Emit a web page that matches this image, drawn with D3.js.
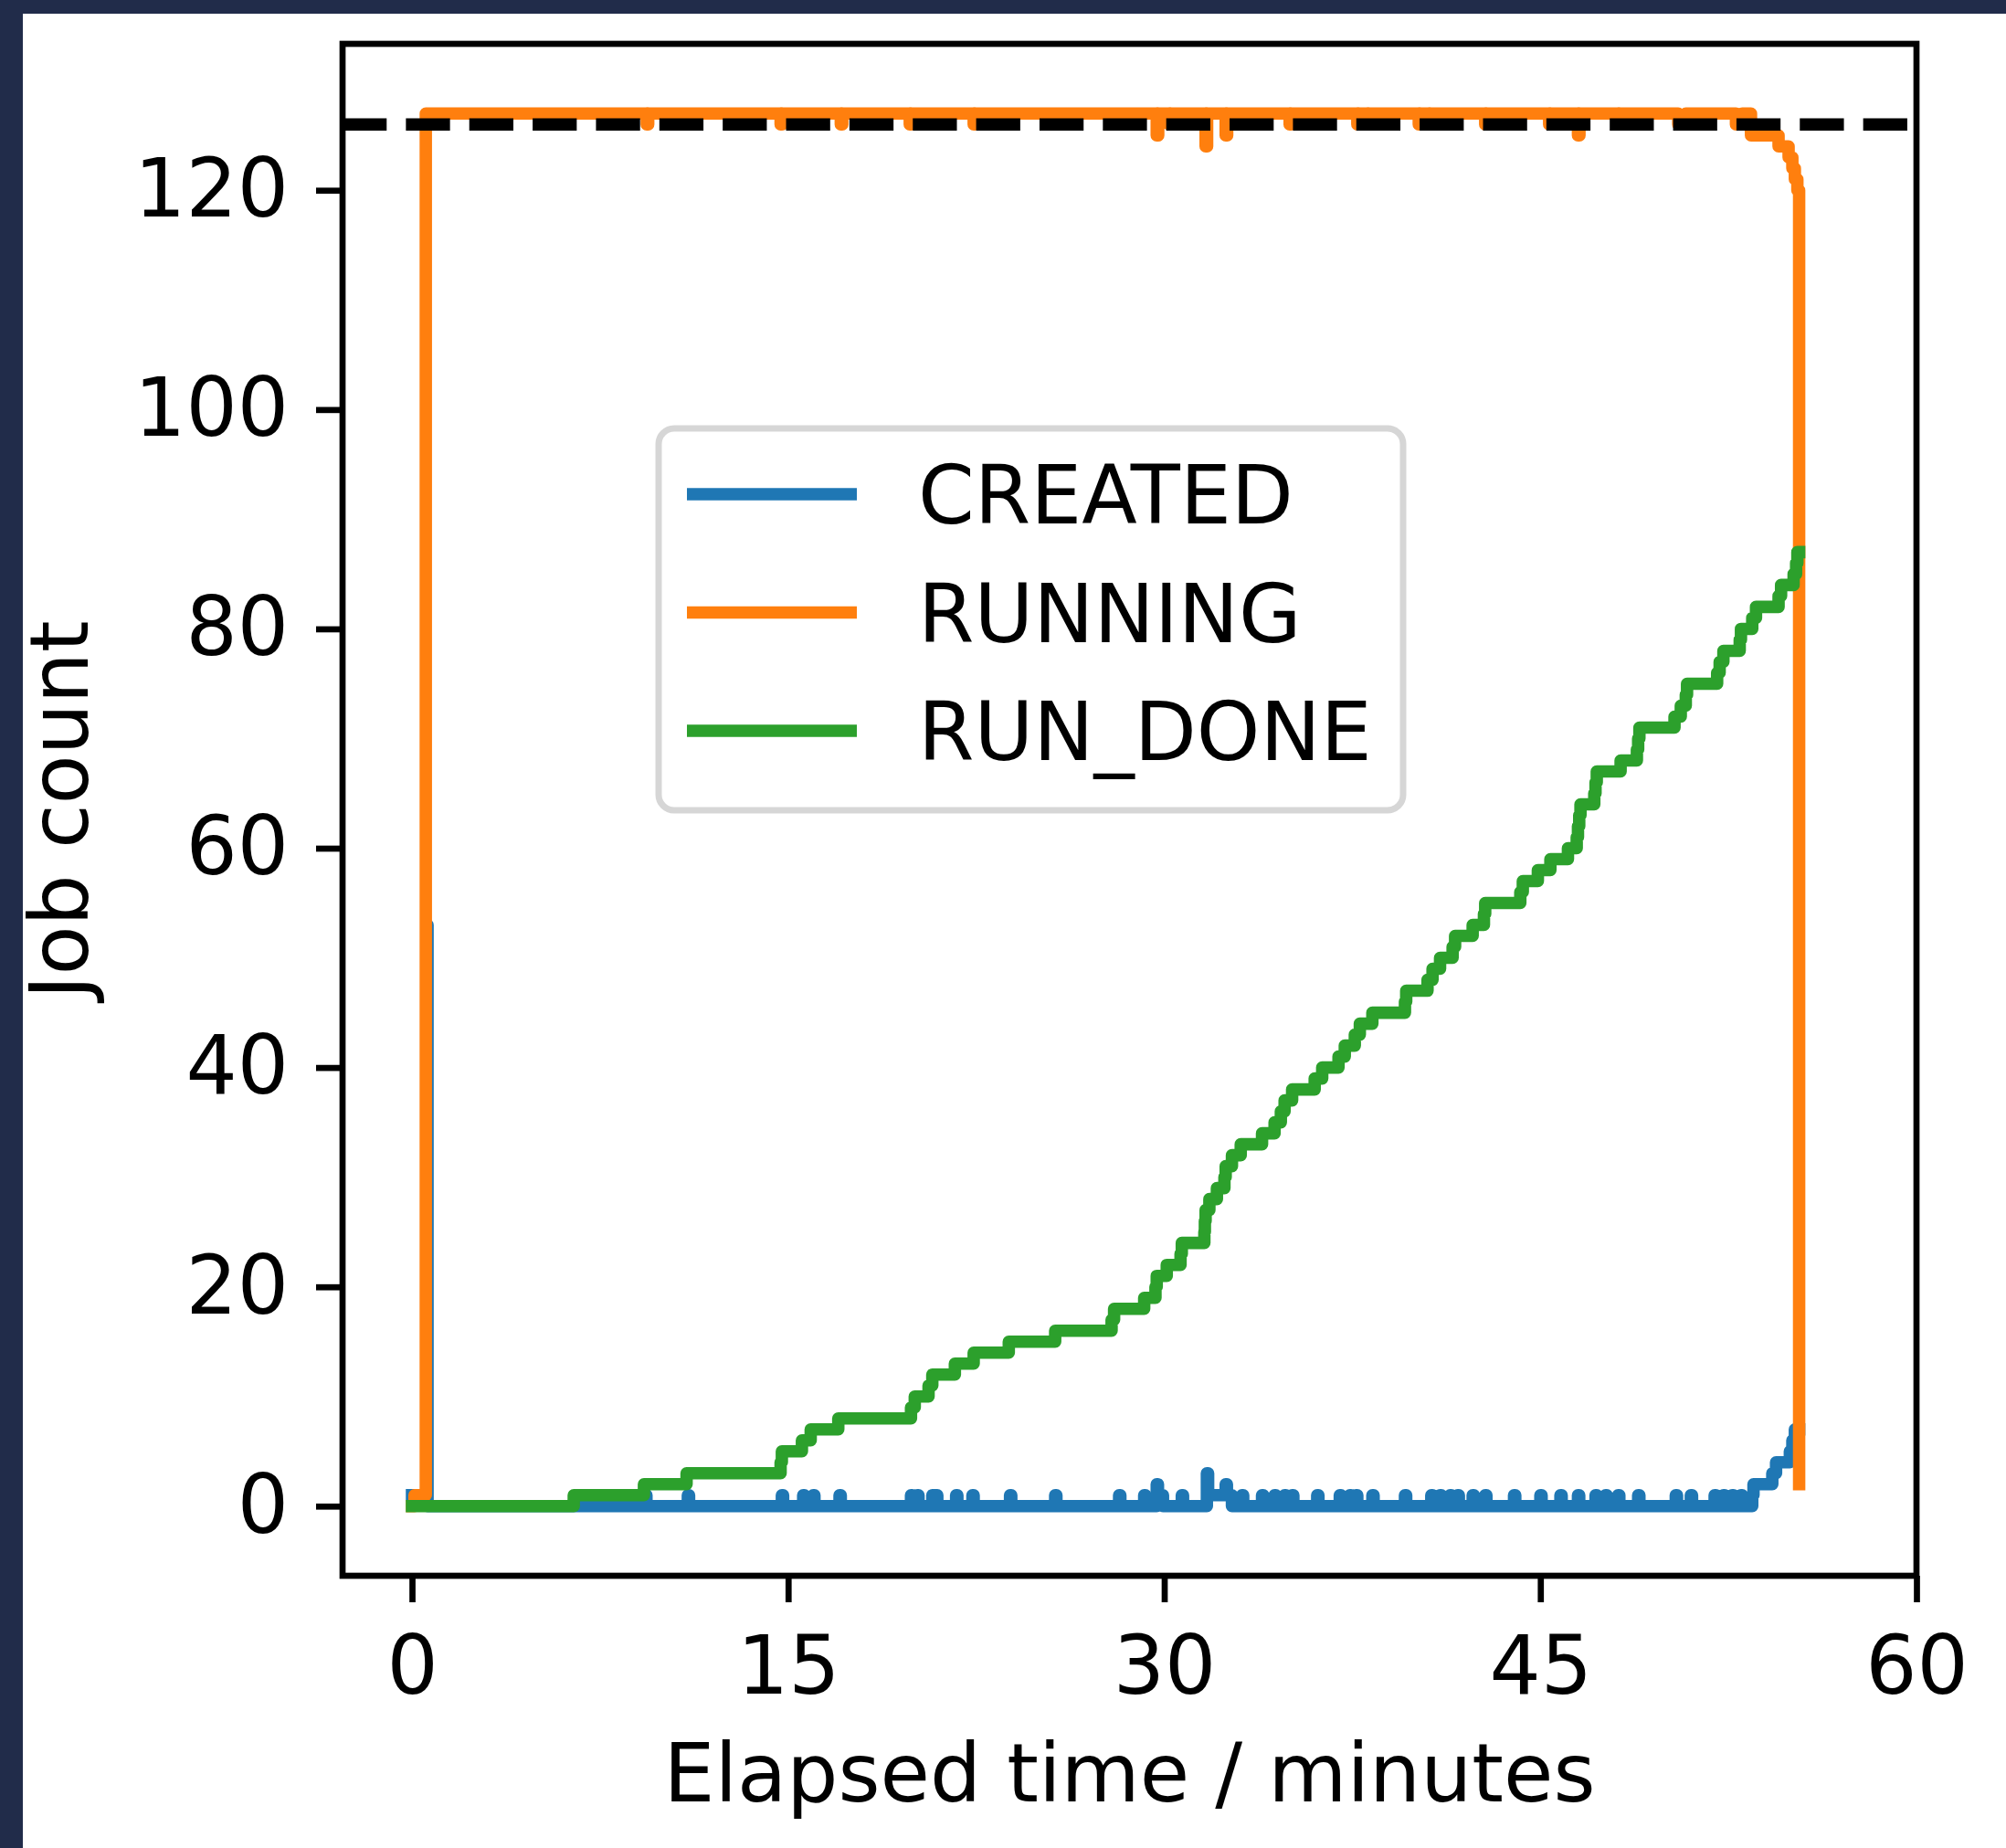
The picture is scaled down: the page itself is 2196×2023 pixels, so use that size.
<!DOCTYPE html>
<html>
<head>
<meta charset="utf-8">
<script src="https://cdn.jsdelivr.net/npm/d3@7"></script>
<style>
  body { margin: 0; background: #212c4a; }
  svg { display: block; }
</style>
</head>
<body>
<svg id="chart"></svg>
<script>
const width = 2196
const height = 2023

// series as [minutes, job count] events, drawn as steps
const seriesNames = ["CREATED", "RUNNING", "RUN_DONE"]
const seriesColors = ["#1f77b4", "#ff7f0e", "#2ca02c"]
const xTicks = [0, 15, 30, 45, 60]
const yTicks = [0, 20, 40, 60, 80, 100, 120]
const totalJobs = 126

const created = [
  [0, 1], [0.6, 53], [0.62, 0],
  [9.3, 1], [9.35, 0], [11.0, 1], [11.05, 0], [14.75, 1], [14.8, 0],
  [15.6, 1], [15.65, 0], [16.0, 1], [16.05, 0], [17.05, 1], [17.1, 0],
  [19.9, 1], [19.95, 0], [20.15, 1], [20.2, 0], [20.75, 1], [20.8, 0],
  [20.9, 1], [20.95, 0], [21.7, 1], [21.75, 0], [22.35, 1], [22.4, 0],
  [23.85, 1], [23.9, 0], [25.65, 1], [25.7, 0], [28.2, 1], [28.25, 0],
  [29.2, 1], [29.25, 0], [29.7, 2], [29.75, 1], [29.95, 0],
  [30.7, 1], [30.75, 0], [31.7, 3], [31.75, 1], [32.45, 2], [32.5, 1], [32.7, 0],
  [33.1, 1], [33.15, 0], [33.9, 1], [33.95, 0], [34.4, 1], [34.45, 0],
  [34.8, 1], [34.85, 0], [35.1, 1], [35.15, 0], [36.1, 1], [36.15, 0],
  [37.0, 1], [37.05, 0], [37.4, 1], [37.45, 0], [37.65, 1], [37.7, 0],
  [38.3, 1], [38.35, 0], [39.6, 1], [39.65, 0], [40.65, 1], [40.7, 0],
  [41.0, 1], [41.05, 0], [41.4, 1], [41.45, 0], [41.7, 1], [41.75, 0],
  [42.3, 1], [42.35, 0], [42.8, 1], [42.85, 0], [43.95, 1], [44.0, 0],
  [45.0, 1], [45.05, 0], [45.8, 1], [45.85, 0], [46.5, 1], [46.55, 0],
  [47.2, 1], [47.25, 0], [47.6, 1], [47.65, 0], [48.1, 1], [48.15, 0],
  [48.9, 1], [48.95, 0], [50.4, 1], [50.45, 0], [51.0, 1], [51.05, 0],
  [51.95, 1], [52.0, 0], [52.3, 1], [52.35, 0], [52.65, 1], [52.7, 0],
  [53.0, 1], [53.05, 0],
  [53.45, 1], [53.5, 2], [54.25, 3], [54.4, 4], [54.95, 5], [55.05, 6], [55.15, 7], [55.32, 7]
]

const running = [
  [0, 0], [0.1, 1], [0.55, 127],
  [9.36, 126], [9.42, 127], [14.7, 126], [14.76, 127], [17.1, 126], [17.16, 127],
  [19.85, 126], [19.91, 127], [22.4, 126], [22.46, 127],
  [29.7, 125], [29.76, 127], [30.2, 126], [30.26, 127], [31.65, 124], [31.71, 127],
  [32.45, 125], [32.51, 127], [35.0, 126], [35.06, 127], [37.7, 126], [37.76, 127],
  [38.1, 126], [38.16, 127], [40.15, 126], [40.21, 127], [40.55, 126], [40.61, 127],
  [42.8, 126], [42.86, 127], [45.35, 126], [45.41, 127], [46.5, 125], [46.56, 127],
  [48.1, 126], [48.16, 127], [50.5, 126], [50.8, 127], [52.8, 126], [53.05, 127],
  [53.4, 125], [54.5, 124], [54.9, 123], [55.05, 122], [55.15, 121], [55.25, 120], [55.32, 2]
]

const runDone = [
  [0, 0], [6.45, 1], [9.25, 2], [10.95, 3], [14.7, 4], [14.75, 5], [15.55, 6], [15.9, 7],
  [17.0, 8], [19.9, 9], [20.05, 10], [20.6, 11], [20.75, 12], [21.65, 13], [22.4, 14],
  [23.8, 15], [25.65, 16], [27.9, 17], [28.0, 18], [29.2, 19], [29.65, 20], [29.7, 21],
  [30.1, 22], [30.65, 23], [30.7, 24], [31.6, 25], [31.62, 26], [31.65, 27], [31.8, 28],
  [32.1, 29], [32.4, 30], [32.45, 31], [32.7, 32], [33.05, 33], [33.9, 34], [34.4, 35],
  [34.65, 36], [34.8, 37], [35.1, 38], [36.0, 39], [36.3, 40], [36.95, 41], [37.2, 42],
  [37.6, 43], [37.8, 44], [38.3, 45], [39.6, 46], [39.65, 47], [40.5, 48], [40.7, 49],
  [41.0, 50], [41.5, 51], [41.6, 52], [42.3, 53], [42.75, 54], [42.8, 55], [44.2, 56],
  [44.3, 57], [44.9, 58], [45.4, 59], [46.1, 60], [46.45, 61], [46.5, 62], [46.55, 63],
  [46.6, 64], [47.15, 65], [47.2, 66], [47.25, 67], [48.2, 68], [48.85, 69], [48.9, 70],
  [48.95, 71], [50.35, 72], [50.6, 73], [50.8, 74], [50.85, 75], [52.05, 76], [52.15, 77],
  [52.3, 78], [52.95, 79], [53.0, 80], [53.45, 81], [53.6, 82], [54.5, 83], [54.6, 84],
  [55.1, 85], [55.2, 86], [55.25, 87], [55.32, 87]
]

const seriesData = [created, running, runDone]

const fontFamily = "DejaVu Sans"
const fontSize = 88.5
const lineWidth = 13.6
const spineWidth = 6.7
const tickLen = 29

const plot = { left: 375, right: 2098, top: 48, bottom: 1725 }

const x = d3.scaleLinear().domain([-2.77, 60]).range([plot.left, plot.right])
const y = d3.scaleLinear().domain([-6.35, 133.35]).range([plot.bottom, plot.top])

const svg = d3.select("#chart")
              .attr("width", width)
              .attr("height", height)
              .attr("font-family", fontFamily)

// navy frame round the white figure
svg.append("rect")
   .attr("width", width).attr("height", height)
   .attr("fill", "#212c4a")
svg.append("rect")
   .attr("x", 25).attr("y", 15)
   .attr("width", width - 25).attr("height", height - 15)
   .attr("fill", "#ffffff")

svg.append("defs").append("clipPath")
   .attr("id", "plotClip")
   .append("rect")
   .attr("x", plot.left).attr("y", plot.top)
   .attr("width", plot.right - plot.left).attr("height", plot.bottom - plot.top)

const line = d3.line()
               .x(d => x(d[0]))
               .y(d => y(d[1]))
               .curve(d3.curveStepAfter)

const lines = svg.append("g").attr("clip-path", "url(#plotClip)")

lines.selectAll(".series")
     .data(seriesData)
     .enter()
     .append("path")
     .attr("class", "series")
     .attr("d", line)
     .attr("fill", "none")
     .attr("stroke", (d, i) => seriesColors[i])
     .attr("stroke-width", lineWidth)
     .attr("stroke-linejoin", "round")
     .attr("stroke-linecap", "square")

// total number of jobs
lines.append("line")
     .attr("x1", plot.left).attr("x2", plot.right)
     .attr("y1", y(totalJobs)).attr("y2", y(totalJobs))
     .attr("stroke", "#000")
     .attr("stroke-width", lineWidth)
     .attr("stroke-dasharray", (3.55 * lineWidth) + " " + (1.55 * lineWidth))

// axes
const xAxis = d3.axisBottom(x).tickValues(xTicks).tickSize(tickLen).tickPadding(37)
const yAxis = d3.axisLeft(y).tickValues(yTicks).tickSize(tickLen).tickPadding(30)

const gx = svg.append("g")
              .attr("transform", "translate(0," + plot.bottom + ")")
              .call(xAxis)
const gy = svg.append("g")
              .attr("transform", "translate(" + plot.left + ",0)")
              .call(yAxis)

for (const g of [gx, gy]) {
  g.select(".domain").remove()
  g.selectAll(".tick line").attr("stroke", "#000").attr("stroke-width", spineWidth)
  g.selectAll(".tick text")
   .attr("fill", "#000")
   .attr("font-size", fontSize)
   .attr("font-family", fontFamily)
}

svg.append("rect")
   .attr("x", plot.left).attr("y", plot.top)
   .attr("width", plot.right - plot.left).attr("height", plot.bottom - plot.top)
   .attr("fill", "none")
   .attr("stroke", "#000")
   .attr("stroke-width", spineWidth)

svg.append("text")
   .attr("x", (plot.left + plot.right) / 2)
   .attr("y", 1972)
   .attr("text-anchor", "middle")
   .attr("font-size", fontSize)
   .text("Elapsed time / minutes")

svg.append("text")
   .attr("transform", "translate(96," + ((plot.top + plot.bottom) / 2) + ") rotate(-90)")
   .attr("text-anchor", "middle")
   .attr("font-size", fontSize)
   .text("Job count")

// legend
const legend = svg.append("g")

legend.append("rect")
      .attr("x", 721).attr("y", 469)
      .attr("width", 815).attr("height", 418)
      .attr("rx", 17)
      .attr("fill", "#fff").attr("fill-opacity", 0.8)
      .attr("stroke", "#cccccc").attr("stroke-opacity", 0.8)
      .attr("stroke-width", 7)

const rows = legend.selectAll(".entry")
                   .data(seriesNames)
                   .enter()
                   .append("g")
                   .attr("class", "entry")
                   .attr("transform", (d, i) => "translate(0," + (541 + i * 129.5) + ")")

rows.append("line")
    .attr("x1", 752).attr("x2", 938)
    .attr("stroke", (d, i) => seriesColors[i])
    .attr("stroke-width", lineWidth)

rows.append("text")
    .attr("x", 1005)
    .attr("y", 32)
    .attr("font-size", fontSize)
    .attr("fill", "#000")
    .text(d => d)
</script>
</body>
</html>
